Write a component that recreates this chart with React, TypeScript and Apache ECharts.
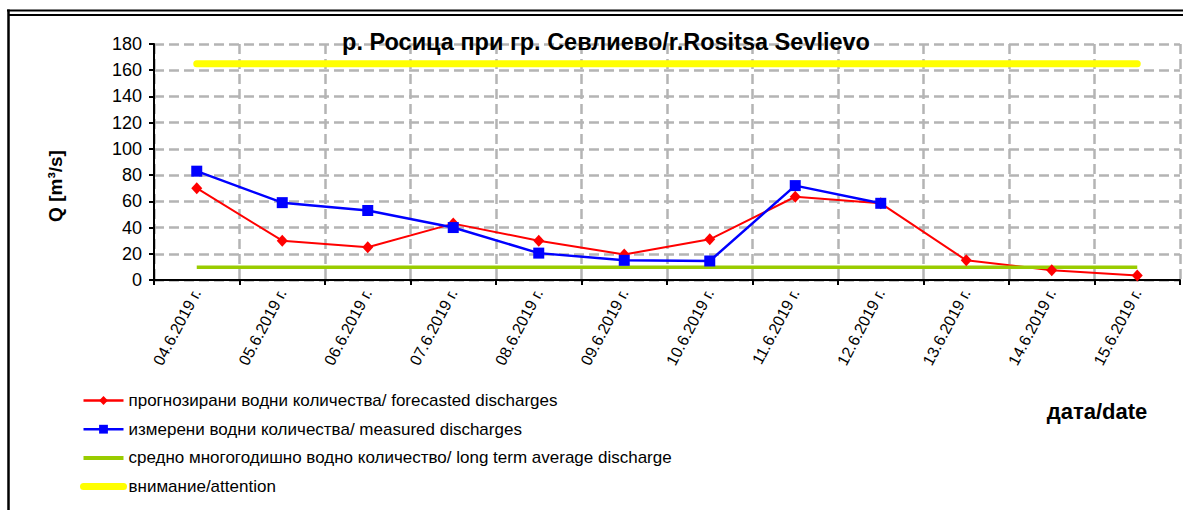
import React, { useEffect, useRef } from "react";
import * as echarts from "echarts";

const dates = [
  "04.6.2019 г.",
  "05.6.2019 г.",
  "06.6.2019 г.",
  "07.6.2019 г.",
  "08.6.2019 г.",
  "09.6.2019 г.",
  "10.6.2019 г.",
  "11.6.2019 г.",
  "12.6.2019 г.",
  "13.6.2019 г.",
  "14.6.2019 г.",
  "15.6.2019 г.",
];
const forecasted = [70, 30, 25, 43, 30, 19.5, 31, 63.5, 58.5, 15, 7.5, 3.5];
const measured = [83, 59, 53, 40, 20.5, 15, 14.5, 72, 58.5, null, null, null];
const longTermAverage = [9.7, 9.7, 9.7, 9.7, 9.7, 9.7, 9.7, 9.7, 9.7, 9.7, 9.7, 9.7];
const attention = [165, 165, 165, 165, 165, 165, 165, 165, 165, 165, 165, 165];

const seriesNames = [
  "прогнозирани водни количества/ forecasted discharges",
  "измерени водни количества/ measured discharges",
  "средно многогодишно водно количество/ long term average discharge",
  "внимание/attention",
];
const titleText = "р. Росица при гр. Севлиево/r.Rositsa Sevlievo";
const yAxisTitle = "Q [m³/s]";
const xAxisTitle = "дата/date";
const yMin = 0;
const yMax = 180;
const yStep = 20;

const FONT = "'Liberation Sans', Arial, sans-serif";

export default function App() {
  const ref = useRef<HTMLDivElement>(null);
  useEffect(() => {
    if (!ref.current) return;
    const chart = echarts.init(ref.current, undefined, { renderer: "svg" });
    chart.setOption({
      animation: false,
      backgroundColor: "#ffffff",
      textStyle: { fontFamily: FONT },
      grid: { left: 154, right: 3, top: 44, bottom: 230, containLabel: false },
      legend: {
        orient: "vertical",
        left: 80,
        top: 392,
        height: 116,
        padding: 0,
        itemWidth: 40,
        itemHeight: 11,
        itemGap: 11.7,
        textStyle: { fontSize: 17, color: "#000", fontFamily: FONT },
        data: [
          { name: seriesNames[0], lineStyle: { width: 2.5 } },
          { name: seriesNames[1], lineStyle: { width: 2.5 } },
          { name: seriesNames[2], itemStyle: { opacity: 0 }, lineStyle: { width: 4 } },
          {
            name: seriesNames[3],
            itemStyle: { opacity: 0 },
            lineStyle: { width: 7, cap: "round" },
          },
        ],
      },
      xAxis: {
        type: "category",
        data: dates,
        boundaryGap: true,
        axisLine: { lineStyle: { color: "#000", width: 2 } },
        axisTick: { show: true, length: 5, lineStyle: { color: "#000", width: 2 } },
        axisLabel: {
          rotate: 62,
          fontSize: 16,
          color: "#000",
          margin: 10,
          fontFamily: FONT,
          interval: 0,
        },
        splitLine: {
          show: true,
          interval: 0,
          lineStyle: { color: "#b4b4b4", width: 2.5, type: "dashed", dashOffset: 0 },
        },
      },
      yAxis: {
        type: "value",
        min: yMin,
        max: yMax,
        interval: yStep,
        axisLine: { show: true, lineStyle: { color: "#000", width: 2 } },
        axisTick: { show: true, length: 5, lineStyle: { color: "#000", width: 2 } },
        axisLabel: { fontSize: 18, color: "#000", margin: 12, fontFamily: FONT },
        splitLine: {
          show: true,
          lineStyle: { color: "#b4b4b4", width: 2.5, type: "dashed", dashOffset: 0 },
        },
      },
      series: [
        {
          name: seriesNames[0],
          type: "line",
          data: forecasted,
          symbol: "diamond",
          symbolSize: [11, 12],
          itemStyle: { color: "#ff0000" },
          lineStyle: { color: "#ff0000", width: 2 },
          z: 3,
        },
        {
          name: seriesNames[1],
          type: "line",
          data: measured,
          symbol: "rect",
          symbolSize: 11,
          connectNulls: false,
          itemStyle: { color: "#0000ff" },
          lineStyle: { color: "#0000ff", width: 2.5 },
          z: 4,
        },
        {
          name: seriesNames[2],
          type: "line",
          data: longTermAverage,
          symbol: "none",
          itemStyle: { color: "#99cc00" },
          lineStyle: { color: "#99cc00", width: 3.5 },
          z: 3,
        },
        {
          name: seriesNames[3],
          type: "line",
          data: attention,
          symbol: "none",
          itemStyle: { color: "#ffff00" },
          lineStyle: { color: "#ffff00", width: 7, cap: "round" },
          z: 3,
        },
      ],
      graphic: [
        {
          type: "text",
          x: 606,
          y: 42,
          style: {
            text: titleText,
            fontSize: 23.5,
            fontWeight: "bold",
            fontFamily: FONT,
            fill: "#000",
            textAlign: "center",
            textVerticalAlign: "middle",
          },
          z: 10,
        },
        {
          type: "text",
          x: 55,
          y: 186,
          rotation: Math.PI / 2,
          style: {
            text: yAxisTitle,
            fontSize: 19,
            fontWeight: "bold",
            fontFamily: FONT,
            fill: "#000",
            textAlign: "center",
            textVerticalAlign: "middle",
          },
        },
        {
          type: "text",
          x: 1097,
          y: 411,
          style: {
            text: xAxisTitle,
            fontSize: 22,
            fontWeight: "bold",
            fontFamily: FONT,
            fill: "#000",
            textAlign: "center",
            textVerticalAlign: "middle",
          },
        },
        {
          type: "line",
          shape: { x1: 7, y1: 10.5, x2: 1183, y2: 10.5 },
          style: { stroke: "#000", lineWidth: 2 },
        },
        {
          type: "line",
          shape: { x1: 9, y1: 15, x2: 1183, y2: 15 },
          style: { stroke: "#000", lineWidth: 2 },
        },
        {
          type: "line",
          shape: { x1: 8.5, y1: 9.5, x2: 8.5, y2: 510 },
          style: { stroke: "#000", lineWidth: 2.5 },
        },
      ],
    });
    return () => chart.dispose();
  }, []);
  return (
    <div
      ref={ref}
      style={{ position: "absolute", left: 0, top: 0, width: 1183, height: 510 }}
    />
  );
}
